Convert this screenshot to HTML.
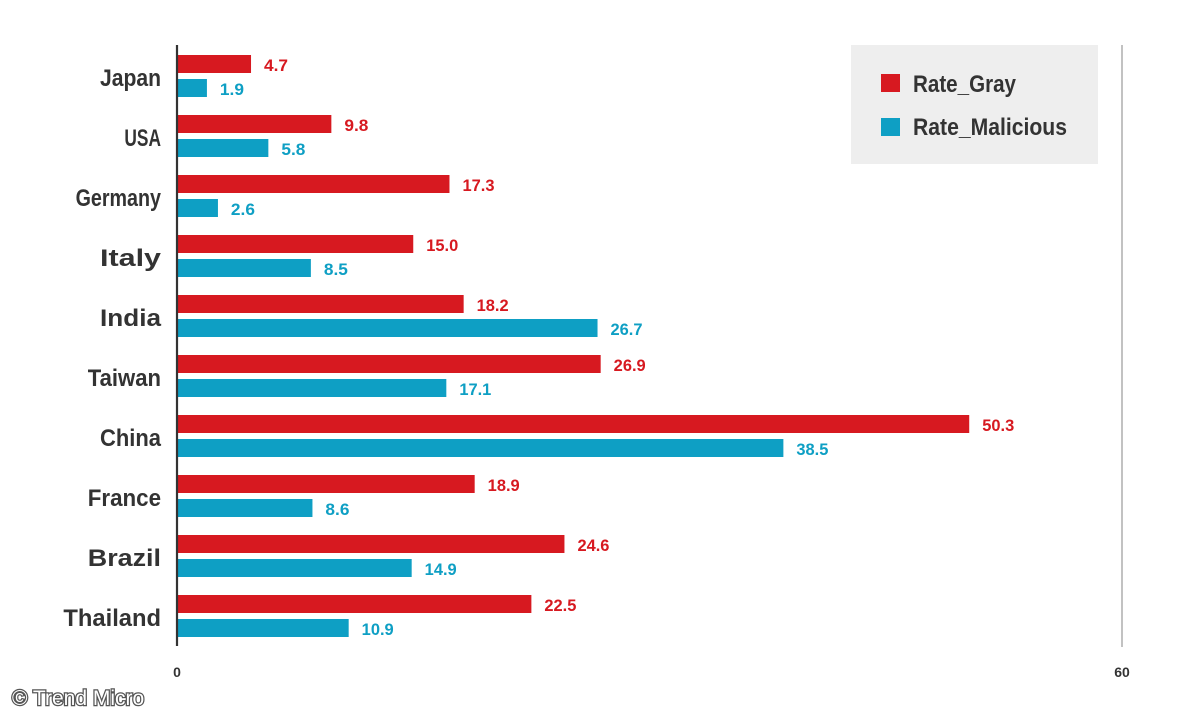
<!DOCTYPE html>
<html><head><meta charset="utf-8"><style>
html,body{margin:0;padding:0;background:#fff;width:1200px;height:720px;overflow:hidden}
svg text{font-family:"Liberation Sans",sans-serif;font-weight:bold}
</style></head><body>
<svg id="chart" width="1200" height="720" xmlns="http://www.w3.org/2000/svg">
<line x1="1122" y1="45" x2="1122" y2="647" stroke="#999" stroke-width="1.2"/>
<rect x="851" y="45" width="247" height="119" fill="#eeeeee"/>
<g id="bars"></g>
<line x1="177" y1="45" x2="177" y2="646" stroke="#333" stroke-width="2.2"/>
<text x="177" y="677" font-size="14" fill="#333" text-anchor="middle">0</text>
<text x="1122" y="677" font-size="14" fill="#333" text-anchor="middle">60</text>
<g>
<rect x="881" y="74" width="19" height="18" fill="#d71920"/>
<text x="913" y="92" font-size="24" fill="#333" textLength="103" lengthAdjust="spacingAndGlyphs">Rate_Gray</text>
</g>
<g>
<rect x="881" y="118" width="19" height="18" fill="#0e9fc4"/>
<text x="913" y="135" font-size="24" fill="#333" textLength="154" lengthAdjust="spacingAndGlyphs">Rate_Malicious</text>
</g>
<text x="12" y="705" font-size="21" fill="#fff" stroke="#555" stroke-width="2.5" paint-order="stroke" style="font-weight:normal">© Trend Micro</text>
</svg>
<script>
const categories=["Japan","USA","Germany","Italy","India","Taiwan","China","France","Brazil","Thailand"];
const grayValues=[4.7,9.8,17.3,15.0,18.2,26.9,50.3,18.9,24.6,22.5];
const maliciousValues=[1.9,5.8,2.6,8.5,26.7,17.1,38.5,8.6,14.9,10.9];
const xTicks=[0,60];
const NS="http://www.w3.org/2000/svg";
const x=v=>177+v*(945/60);
const rowY=i=>55+i*60;
const g=document.getElementById('bars');
function mk(tag,attrs){const e=document.createElementNS(NS,tag);for(const k in attrs)e.setAttribute(k,attrs[k]);g.appendChild(e);return e;}
categories.forEach((c,i)=>{
  const y=rowY(i);
  const lab=mk('text',{x:161,y:y+31,'font-size':24,fill:'#333','text-anchor':'end',textLength:c.length*12.2,lengthAdjust:'spacingAndGlyphs'});
  lab.textContent=c;
  
  
  [[grayValues[i],'#d71920',0],[maliciousValues[i],'#0e9fc4',24]].forEach(([v,col,off])=>{
    const r=mk('rect',{x:177,y:y+off,width:x(v)-177,height:18,fill:col});
    
    
    const s=v.toFixed(1);
    const t=mk('text',{x:x(v)+13,y:y+off+16,'font-size':17,fill:col,textLength:s.length*8,lengthAdjust:'spacingAndGlyphs'});
    t.textContent=s;
    
    
  });
});
</script>
</body></html>
